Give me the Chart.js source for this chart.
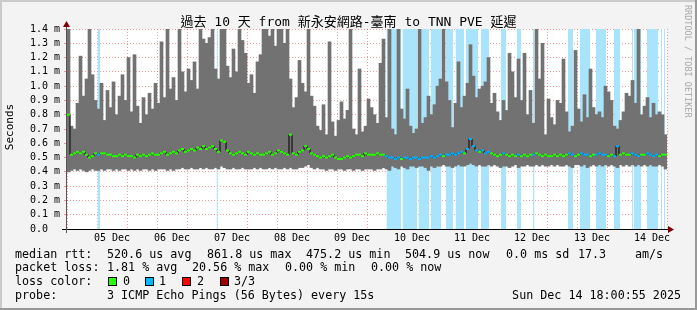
<!DOCTYPE html>
<html><head><meta charset="utf-8">
<script src="https://cdn.jsdelivr.net/npm/chart.js@4/dist/chart.umd.min.js"></script>
<style>
html,body{margin:0;padding:0;background:#f3f3f3;}
#wrap{position:relative;width:697px;height:310px;background:#f3f3f3;overflow:hidden;}
canvas{position:absolute;left:0;top:0;}
.t{position:absolute;white-space:pre;font-family:"DejaVu Sans Mono",monospace;color:#000;line-height:1;}
.leg{font-size:11.7px;}
.box{position:absolute;width:7px;height:7px;border:1px solid #000;}
.edge{position:absolute;}
</style></head><body>
<div id="wrap">
<canvas id="c" width="697" height="310"></canvas>
<div class="edge" style="left:0;top:0;width:697px;height:2px;background:#cbcbcb"></div>
<div class="edge" style="left:0;top:0;width:2px;height:310px;background:#cbcbcb"></div>
<div class="edge" style="left:0;top:308px;width:697px;height:2px;background:#999"></div>
<div class="edge" style="left:695px;top:0;width:2px;height:310px;background:#999"></div>
<div class="t" style="left:0;top:15px;width:697px;text-align:center;font-size:13px;font-family:'DejaVu Sans Mono','Noto Sans CJK TC',monospace">過去 10 天 from 新永安網路-臺南 to TNN PVE 延遲</div>
<div class="t" style="left:-20px;top:121px;width:60px;height:12px;text-align:center;font-size:11px;transform:rotate(-90deg)">Seconds</div>
<div class="t" style="left:692px;top:5px;font-size:8.5px;color:#a8a8a8;transform-origin:0 0;transform:rotate(90deg)">RRDTOOL / TOBI OETIKER</div>
<div id="legend"></div>
</div>
<script>
// ---- data ----
const yTickLabels = ['0.0  ','0.1 m','0.2 m','0.3 m','0.4 m','0.5 m','0.6 m','0.7 m','0.8 m','0.9 m','1.0 m','1.1 m','1.2 m','1.3 m','1.4 m'];
const dayLabels = ['05 Dec','06 Dec','07 Dec','08 Dec','09 Dec','10 Dec','11 Dec','12 Dec','13 Dec','14 Dec'];
const noonHours = [18,42,66,90,114,138,162,186,210,234];       // hours since Dec 4 18:00
const midnightHours = [6,30,54,78,102,126,150,174,198,222];
const columnHours = 1.2; // each smoke column spans 1.2 h

const smokeTop = [1.5,0.72,0.70,0.88,1.21,0.93,1.05,1.5,1.08,0.90,
 0.84,1.02,0.76,0.97,0.85,1.03,0.80,0.93,1.08,0.90,
 1.20,0.82,1.22,0.86,0.74,0.92,0.80,0.95,0.84,1.02,
 0.88,1.31,0.92,1.5,0.98,1.06,0.90,1.5,1.10,0.96,
 1.12,1.04,1.17,0.98,1.5,1.33,1.30,1.34,1.5,1.12,
 1.05,1.5,1.5,1.14,1.06,1.26,1.10,1.5,1.32,1.23,
 1.02,1.08,0.95,1.17,1.22,1.5,1.5,1.35,1.5,1.28,
 1.5,1.5,1.30,1.5,1.05,0.85,0.92,1.18,1.02,0.96,
 1.5,0.93,0.86,0.72,0.69,0.87,0.66,1.31,0.75,0.65,
 0.76,0.89,0.77,0.83,1.5,0.70,0.66,1.12,0.68,0.72,
 0.91,0.85,0.80,0.74,1.16,1.33,0.78,1.5,0.70,0.66,
 1.5,0.84,0.77,0.98,0.72,0.67,0.70,1.5,0.74,0.78,
 0.93,0.80,0.87,1.00,1.05,1.5,1.03,0.90,0.71,0.88,
 1.17,0.85,0.93,1.02,1.29,1.07,0.92,0.98,1.00,1.03,
 1.20,0.88,0.95,0.82,0.76,0.90,0.83,1.23,1.10,0.92,
 1.19,0.90,1.23,0.80,0.97,0.74,1.5,1.05,1.30,0.66,
 0.91,0.78,0.73,0.90,0.88,1.19,0.82,0.68,0.72,1.25,
 0.84,0.75,0.94,0.78,1.12,0.85,0.80,0.82,0.78,1.00,
 0.96,0.90,0.72,0.70,0.76,0.82,0.95,0.93,1.04,0.88,
 1.5,0.80,0.86,0.92,0.78,0.88,0.80,0.82,0.80,0.66];

const smokeBottom = [0.40,0.41,0.42,0.41,0.42,0.41,0.40,0.41,0.42,0.41,
 0.41,0.42,0.41,0.42,0.42,0.41,0.42,0.41,0.42,0.42,
 0.41,0.42,0.41,0.42,0.41,0.42,0.42,0.41,0.42,0.41,
 0.42,0.42,0.42,0.41,0.42,0.41,0.42,0.42,0.43,0.42,
 0.42,0.43,0.42,0.42,0.43,0.42,0.43,0.42,0.42,0.43,
 0.42,0.44,0.43,0.42,0.42,0.43,0.42,0.42,0.43,0.42,
 0.42,0.42,0.43,0.42,0.43,0.42,0.42,0.43,0.42,0.43,
 0.42,0.42,0.43,0.42,0.43,0.42,0.42,0.43,0.43,0.44,
 0.45,0.43,0.42,0.43,0.42,0.42,0.41,0.42,0.42,0.41,
 0.42,0.42,0.41,0.42,0.42,0.41,0.42,0.42,0.41,0.42,
 0.42,0.42,0.41,0.42,0.42,0.43,0.42,0.41,0.44,0.43,
 0.42,0.44,0.43,0.42,0.44,0.44,0.43,0.44,0.44,0.43,
 0.41,0.44,0.43,0.44,0.44,0.45,0.44,0.44,0.43,0.44,
 0.45,0.44,0.44,0.45,0.46,0.45,0.44,0.45,0.44,0.44,
 0.45,0.44,0.45,0.44,0.43,0.44,0.44,0.43,0.44,0.45,
 0.43,0.44,0.44,0.45,0.44,0.44,0.45,0.44,0.45,0.44,
 0.44,0.45,0.44,0.45,0.44,0.44,0.45,0.44,0.43,0.45,
 0.45,0.44,0.45,0.43,0.44,0.45,0.44,0.45,0.44,0.45,
 0.44,0.45,0.44,0.43,0.45,0.44,0.45,0.44,0.45,0.44,
 0.45,0.44,0.45,0.44,0.45,0.44,0.44,0.45,0.44,0.42];

const medianRtt = [0.80,0.52,0.53,0.54,0.53,0.54,0.52,0.50,0.51,0.53,
 0.52,0.53,0.53,0.52,0.52,0.51,0.51,0.52,0.51,0.52,
 0.51,0.51,0.50,0.52,0.51,0.52,0.51,0.52,0.53,0.52,
 0.52,0.53,0.54,0.52,0.53,0.54,0.53,0.55,0.56,0.54,
 0.55,0.56,0.55,0.57,0.56,0.58,0.56,0.57,0.58,0.56,
 0.54,0.62,0.61,0.55,0.53,0.52,0.53,0.54,0.53,0.52,
 0.54,0.53,0.52,0.53,0.52,0.52,0.53,0.54,0.52,0.53,
 0.55,0.54,0.53,0.52,0.66,0.53,0.52,0.54,0.55,0.58,
 0.56,0.53,0.52,0.51,0.50,0.51,0.50,0.51,0.52,0.50,
 0.49,0.49,0.50,0.51,0.50,0.51,0.52,0.52,0.51,0.53,
 0.52,0.52,0.52,0.53,0.52,0.52,0.51,0.50,0.50,0.49,
 0.50,0.49,0.50,0.50,0.49,0.50,0.50,0.49,0.50,0.50,
 0.50,0.51,0.50,0.51,0.52,0.51,0.52,0.52,0.53,0.52,
 0.53,0.54,0.53,0.56,0.63,0.58,0.55,0.54,0.55,0.53,
 0.54,0.53,0.52,0.51,0.52,0.53,0.52,0.51,0.52,0.51,
 0.52,0.51,0.52,0.51,0.52,0.52,0.53,0.52,0.51,0.52,
 0.51,0.51,0.52,0.51,0.52,0.51,0.52,0.53,0.52,0.51,
 0.52,0.53,0.52,0.52,0.51,0.52,0.52,0.53,0.52,0.52,
 0.51,0.52,0.51,0.58,0.52,0.53,0.52,0.52,0.53,0.52,
 0.51,0.52,0.52,0.53,0.52,0.51,0.52,0.51,0.52,0.52];

// packet-loss periods (hours since start)
const lossStart = [12.2,59.8,127.8,134.2,140.6,145.6,151.6,155.4,159.6,165.6,173.6,180.0,186.4,200.4,205.2,211.6,218.8,226.0,226.8,232.0,237.6,238.8];
const lossEnd   = [13.2,60.3,133.6,140.0,144.8,149.6,154.4,158.8,164.4,168.8,175.6,181.6,187.0,202.4,209.2,215.6,221.2,226.5,229.6,236.4,238.0,239.2];

const legendLines = [
  {y:249, parts:[['median rtt:',15],['520.6 us avg',107],['861.8 us max',207],['475.2 us min',306],['504.9 us now',405],['0.0 ms sd',506],['17.3',578],['am/s',635]]},
  {y:262, parts:[['packet loss:',15],['1.81 % avg',107],['20.56 % max',192],['0.00 % min',285],['0.00 % now',371]]},
  {y:276, parts:[['loss color:',15],['0',123],['1',159],['2',197],['3/3',234]]},
  {y:290, parts:[['probe:',15],['3 ICMP Echo Pings (56 Bytes) every 15s',107]]}
];
const lossColors = [['#26ff00',108],['#00b8ff',145],['#ff0000',182],['#a10000',220]];
const stampText = 'Sun Dec 14 18:00:55 2025';

// ---- legend (HTML text) ----
const lg = document.getElementById('legend');
legendLines.forEach(l => l.parts.forEach(([s,x]) => {
  const d = document.createElement('div'); d.className='t leg'; d.textContent=s;
  d.style.left=x+'px'; d.style.top=l.y+'px'; lg.appendChild(d);
}));
lossColors.forEach(([c,x]) => {
  const b=document.createElement('div'); b.className='box'; b.style.background=c;
  b.style.left=x+'px'; b.style.top='277px'; lg.appendChild(b);
});
{ const d=document.createElement('div'); d.className='t leg'; d.textContent=stampText;
  d.style.right='16px'; d.style.top='290px'; lg.appendChild(d); }

// ---- chart ----
const colX = i => (i + 0.5) * columnHours;
const inLoss = h => lossStart.some((s,k) => h >= s && h <= lossEnd[k]);
const lossPts = [];
lossStart.forEach((s,k) => { lossPts.push({x:s,y:1.4},{x:lossEnd[k],y:1.4},{x:lossEnd[k],y:null}); });

const RED = 'rgba(235,60,60,0.5)', GRAY = 'rgba(150,150,150,0.6)';

const plotBg = { id:'plotBg', beforeDraw(chart){ const {ctx,chartArea:a}=chart; ctx.save(); ctx.fillStyle='#fff'; ctx.fillRect(a.left,a.top,a.right-a.left,a.bottom-a.top); ctx.restore(); } };
const axes = { id:'axes', afterDatasetsDraw(chart){
  const {ctx,chartArea:a}=chart; ctx.save();
  ctx.strokeStyle='#000'; ctx.lineWidth=1;
  ctx.beginPath(); ctx.moveTo(a.left-5,a.bottom+0.5); ctx.lineTo(a.right+1,a.bottom+0.5); ctx.stroke();
  ctx.strokeStyle='#555';
  ctx.beginPath(); ctx.moveTo(a.left-0.5,a.bottom+4); ctx.lineTo(a.left-0.5,a.top-2); ctx.stroke();
  ctx.fillStyle='#7f0000';
  ctx.beginPath(); ctx.moveTo(a.right+1,a.bottom-3); ctx.lineTo(a.right+7,a.bottom+0.5); ctx.lineTo(a.right+1,a.bottom+4); ctx.closePath(); ctx.fill();
  ctx.beginPath(); ctx.moveTo(a.left-4,a.top-2); ctx.lineTo(a.left-0.5,a.top-8); ctx.lineTo(a.left+3,a.top-2); ctx.closePath(); ctx.fill();
  ctx.restore(); } };

new Chart(document.getElementById('c'), {
  data: { datasets: [
    { type:'line', data: lossPts, fill:'origin', backgroundColor:'rgb(168,228,251)', borderWidth:0, pointRadius:0, spanGaps:false, order:3 },
    { type:'bar', data: smokeTop.map((t,i)=>({x:colX(i), y:[smokeBottom[i], t]})), backgroundColor:'#727272', borderWidth:0, barPercentage:1, categoryPercentage:1, order:2 },
    { type:'line', data: medianRtt.map((v,i)=>({x:colX(i), y:v})), stepped:'middle', borderColor:'#000', borderWidth:1, pointRadius:0, fill:false, order:1 },
    { type:'line', data: medianRtt.map((v,i)=>({x:colX(i), y:v})), showLine:false, pointStyle:'line', pointRadius:1.5, pointBorderWidth:2,
      pointBorderColor: c => inLoss(colX(c.dataIndex)) ? '#00b0ff' : '#26ff00', order:0 }
  ]},
  options: {
    responsive:false, animation:false, devicePixelRatio:1,
    layout:{ padding:{ top:29, right:30, left:0, bottom:0 } },
    plugins:{ legend:{display:false}, tooltip:{enabled:false}, title:{display:false} },
    scales:{
      x:{ type:'linear', min:0, max:240, offset:false,
        afterBuildTicks: s => { s.ticks = midnightHours.concat(noonHours).sort((a,b)=>a-b).map(v=>({value:v})); },
        afterFit: s => { s.height = 81; },
        ticks:{ autoSkip:false, maxRotation:0, minRotation:0, padding:3, color:'#000',
          font:{family:'DejaVu Sans Mono', size:10},
          callback: v => { const k = noonHours.indexOf(v); return k >= 0 ? dayLabels[k] : ''; } },
        grid:{ drawTicks:false, lineWidth:1, color: c => (c.tick && noonHours.includes(c.tick.value)) ? GRAY : RED },
        border:{ display:false, dash:[1,2] } },
      y:{ min:0, max:1.4,
        afterFit: s => { s.width = 67; },
        ticks:{ stepSize:0.1, autoSkip:false, padding:4, color:'#000', font:{family:'DejaVu Sans Mono', size:10},
          callback: (v,i) => yTickLabels[i] },
        grid:{ drawTicks:true, tickLength:3, tickColor:RED, lineWidth:1, color: c => (c.tick && c.tick.value === 0) ? 'rgba(0,0,0,0)' : RED },
        border:{ display:false, dash:[1,2] } }
    }
  },
  plugins:[plotBg, axes]
});
</script>
</body></html>
